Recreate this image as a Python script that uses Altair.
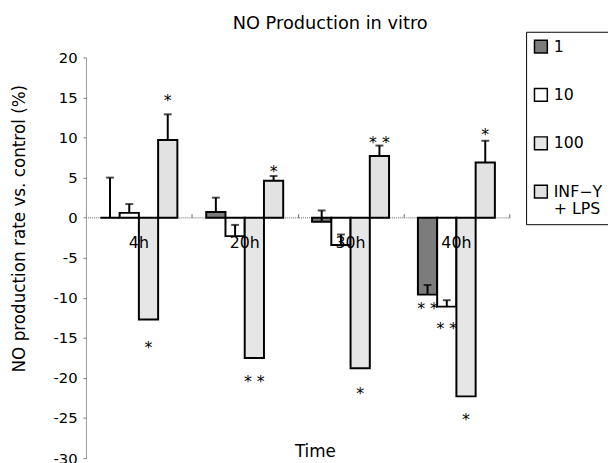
import altair as alt
import pandas as pd

times = ["4h", "20h", "30h", "40h"]
series = ["1", "10", "100", "INF−Y + LPS"]
colors = ["#7c7c7c", "#ffffff", "#e6e6e6", "#e2e2e2"]

# bar values per series (one per time point)
v_1 = [0.0, 0.7, -0.5, -9.6]
v_10 = [0.6, -2.3, -3.4, -11.1]
v_100 = [-12.7, -17.5, -18.8, -22.3]
v_inf = [9.7, 4.6, 7.7, 6.9]

# error bar end values (None = no error bar drawn)
e_1 = [5.0, 2.5, 0.9, -8.4]
e_10 = [1.7, -0.9, -2.1, -10.3]
e_100 = [None, None, None, None]
e_inf = [12.9, 5.2, 9.0, 9.6]

# significance markers
star_time = ["4h", "4h", "20h", "20h", "30h", "30h", "40h", "40h", "40h", "40h"]
star_series = ["100", "INF−Y + LPS", "100", "INF−Y + LPS", "100", "INF−Y + LPS",
               "1", "10", "100", "INF−Y + LPS"]
star_label = ["*", "*", "* *", "*", "*", "* *", "* *", "* *", "*", "*"]
star_y = [-15.8, 15.1, -20.0, 6.2, -21.5, 9.8, -10.9, -13.4, -24.8, 10.8]

y_ticks = [-30, -25, -20, -15, -10, -5, 0, 5, 10, 15, 20]
y_min, y_max = -30, 20

FONT = "DejaVu Sans"
W, H = 429, 406
y0 = H * y_max / (y_max - y_min)

rows = []
for s, vals, errs in [(series[0], v_1, e_1), (series[1], v_10, e_10),
                      (series[2], v_100, e_100), (series[3], v_inf, e_inf)]:
    for t, v, e in zip(times, vals, errs):
        rows.append({"time": t, "series": s, "value": v, "cap": e})
df = pd.DataFrame(rows)
err_df = df.dropna(subset=["cap"])
stars = pd.DataFrame({"time": star_time, "series": star_series,
                      "label": star_label, "y": star_y})

x_scale = alt.Scale(domain=times, paddingInner=0, paddingOuter=0)
xo_scale = alt.Scale(domain=series, paddingInner=0, paddingOuter=0.75)
y_scale = alt.Scale(domain=[y_min, y_max], nice=False, zero=False)

y_axis = alt.Axis(values=y_ticks, grid=False, tickSize=3, labelPadding=6,
                  labelFontSize=15, labelFont=FONT, labelColor="black",
                  labelExpr="replace(datum.label, '−', '-')",
                  domainColor="#999", tickColor="#777",
                  title="NO production rate vs. control (%)",
                  titleFont=FONT, titleFontSize=17, titleFontWeight="normal",
                  titleColor="black", titleX=-67, titleY=173, titleAngle=270,
                  titleAlign="center", titleBaseline="middle")

x_axis = alt.Axis(orient="bottom", offset=-(H - y0), domain=False, ticks=False,
                  labelAngle=0, labelFontSize=16, labelFont=FONT, labelColor="black",
                  labelPadding=17, title="Time", titleFont=FONT, titleFontSize=17,
                  titleFontWeight="normal", titleColor="black", zindex=2,
                  titleY=229, titleX=232, titleBaseline="top", titleAlign="center")

x_axis_ticks = alt.Axis(orient="top", offset=-y0, labels=False, domain=False,
                        ticks=True, tickBand="extent", tickSize=4,
                        tickColor="#666", title=None)

zero = alt.Chart(pd.DataFrame({"z": [0]})).mark_rule(
    color="#999", strokeDash=[1, 1], strokeWidth=1.5
).encode(y=alt.Y("z:Q", scale=y_scale, axis=y_axis))

bars = alt.Chart(df).mark_bar(stroke="black", strokeWidth=2).encode(
    x=alt.X("time:N", sort=times, scale=x_scale, axis=x_axis),
    xOffset=alt.XOffset("series:N", sort=series, scale=xo_scale),
    y=alt.Y("value:Q", scale=y_scale, axis=y_axis),
    color=alt.Color("series:N", sort=series,
                    scale=alt.Scale(domain=series, range=colors),
                    legend=alt.Legend(
                        orient="none", legendX=446, legendY=-26, title=None,
                        symbolType="square", symbolSize=169,
                        symbolStrokeColor="black", symbolStrokeWidth=1.5,
                        labelFont=FONT, labelFontSize=16, labelColor="black",
                        labelOffset=5, labelLimit=200, rowPadding=29,
                        padding=7, strokeColor="black", fillColor="white",
                        labelExpr="datum.label == 'INF−Y + LPS' ? ['INF−Y', '  + LPS'] : datum.label")),
)

err_rule = alt.Chart(err_df).mark_rule(color="black", strokeWidth=2).encode(
    x=alt.X("time:N", sort=times, scale=x_scale, axis=None),
    xOffset=alt.XOffset("series:N", sort=series, scale=xo_scale),
    y=alt.Y("value:Q", scale=y_scale),
    y2="cap:Q",
)

err_cap = alt.Chart(err_df).mark_tick(color="black", thickness=2, size=8).encode(
    x=alt.X("time:N", sort=times, scale=x_scale, axis=None),
    xOffset=alt.XOffset("series:N", sort=series, scale=xo_scale),
    y=alt.Y("cap:Q", scale=y_scale),
)

star_text = alt.Chart(stars).mark_text(
    font=FONT, fontSize=16, fill="black", baseline="middle", dy=4
).encode(
    x=alt.X("time:N", sort=times, scale=x_scale, axis=x_axis_ticks),
    xOffset=alt.XOffset("series:N", sort=series, scale=xo_scale),
    y=alt.Y("y:Q", scale=y_scale),
    text="label:N",
)

chart = alt.layer(zero, bars, err_rule, err_cap, star_text).resolve_axis(
    x="independent"
).properties(
    width=W, height=H,
    title=alt.TitleParams("NO Production in vitro", font=FONT, fontSize=18,
                          fontWeight="normal", color="black", anchor="middle",
                          dx=33, dy=10, offset=8),
    autosize=alt.AutoSizeParams(type="none"),
    padding={"left": 79, "top": 47, "right": 100, "bottom": 10},
).configure_view(stroke=None)

chart.save("out.html", embed_options={"renderer": "svg", "actions": False})
